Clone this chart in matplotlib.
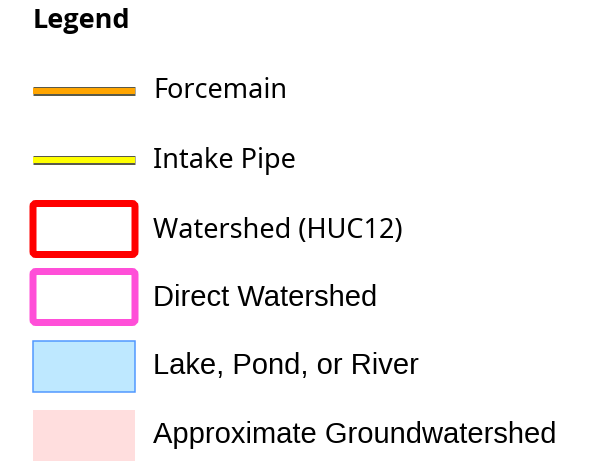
import matplotlib.pyplot as plt
from matplotlib.patches import FancyBboxPatch, Rectangle

title = "Legend"
labels = ["Forcemain", "Intake Pipe", "Watershed (HUC12)", "Direct Watershed",
          "Lake, Pond, or River", "Approximate Groundwatershed"]
kinds = ["line", "line", "outline", "outline", "fill", "fill"]
face_colors = ["#ffa500", "#ffff00", "none", "none", "#bee8ff", "#ffdede"]
edge_colors = ["#5a5a4a", "#5a5a4a", "#ff0000", "#ff4fd8", "#4f97ff", "none"]
# the first labels are set in a Segoe-like face, the rest in an Arial-like one
fonts = ["Noto Sans", "Noto Sans", "Noto Sans",
         "Liberation Sans", "Liberation Sans", "Liberation Sans"]
sizes = [19.5, 19.5, 19.5, 21, 21, 21]

W, H = 599, 462
fig = plt.figure(figsize=(W / 100, H / 100), dpi=100)
ax = fig.add_axes([0, 0, 1, 1])
ax.set_xlim(0, W)
ax.set_ylim(H, 0)
ax.axis("off")

px = 72 / 100  # points per pixel
ax.text(33, 28, title, fontsize=19.5, fontweight="bold",
        family=["Open Sans", "DejaVu Sans"], va="baseline", ha="left")

rows = [91, 160, 229, 297, 366, 435]
baselines = [98, 168, 238, 306, 374, 443]
x0, x1 = 33, 135
for y, yb, lab, kind, fc, ec, fn, fs in zip(rows, baselines, labels, kinds,
                                          face_colors, edge_colors, fonts, sizes):
    if kind == "line":
        ax.plot([x0, x1], [y, y], color=ec, lw=9 * px, solid_capstyle="butt")
        ax.plot([x0, x1], [y, y], color=fc, lw=6 * px, solid_capstyle="butt")
    elif kind == "outline":
        box = FancyBboxPatch((x0, y - 25.5), x1 - x0, 51,
                             boxstyle="round,pad=0,rounding_size=3",
                             facecolor="white", edgecolor=ec, lw=7 * px)
        ax.add_patch(box)
    else:
        rect = Rectangle((x0, y - 25.5), x1 - x0, 51, facecolor=fc,
                         edgecolor=ec, lw=1.5 * px)
        ax.add_patch(rect)
    ax.text(153, yb, lab, fontsize=fs, family=fn, va="baseline", ha="left",
            color="black")

fig.savefig("out.png", dpi=100)
